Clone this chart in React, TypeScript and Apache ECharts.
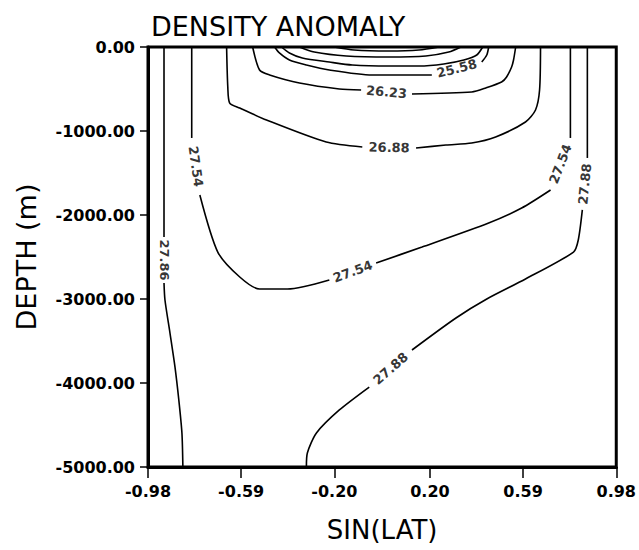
import React, { useEffect, useRef } from "react";
import * as echarts from "echarts";

// Axis ticks
const xTickValues = [-0.98, -0.59, -0.2, 0.2, 0.59, 0.98];
const xMin = -0.98;
const xMax = 0.98;
const depthMin = -5000;
const depthMax = 0;
const depthStep = 1000;

// Contour lines as segments of [sin(lat), depth (m)]; gaps between segments hold the labels
const c2786 = [
  [[-0.913, 0], [-0.913, -2262]],
  [[-0.913, -2810], [-0.909, -3012], [-0.888, -3405], [-0.867, -3810], [-0.851, -4202], [-0.838, -4595], [-0.834, -5000]],
];
const c2754 = [
  [[-0.797, 0], [-0.797, -1083]],
  [[-0.763, -1762], [-0.688, -2441], [-0.596, -2738], [-0.513, -2881], [-0.396, -2881], [-0.221, -2774]],
  [[-0.025, -2571], [0.167, -2381], [0.446, -2095], [0.584, -1917], [0.705, -1702]],
  [[0.788, -1083], [0.788, 0]],
];
const c2788 = [
  [[0.859, 0], [0.859, -1321]],
  [[0.838, -1940], [0.821, -2298], [0.801, -2441], [0.6, -2762], [0.438, -3000], [0.309, -3226], [0.125, -3607]],
  [[-0.054, -4048], [-0.179, -4321], [-0.275, -4595], [-0.313, -4833], [-0.317, -5000]],
];
const c2688 = [
  [[-0.651, 0], [-0.646, -476], [-0.638, -667], [-0.596, -726], [-0.484, -869], [-0.234, -1131], [-0.083, -1190]],
  [[0.142, -1202], [0.267, -1167], [0.375, -1143], [0.475, -1071], [0.6, -893], [0.642, -750], [0.659, -512], [0.663, 0]],
];
const c2623 = [
  [[-0.542, 0], [-0.513, -274], [-0.471, -333], [-0.346, -429], [-0.179, -500], [-0.088, -512]],
  [[0.125, -560], [0.375, -536], [0.434, -488], [0.5, -417], [0.521, -357], [0.542, -238], [0.55, -155], [0.559, 0]],
];
const c2558 = [
  [[-0.45, 0], [-0.43, -71], [-0.388, -155], [-0.317, -214], [-0.221, -274], [-0.042, -333], [0.208, -333]],
  [[0.417, -179], [0.438, -95], [0.446, 0]],
];
const c2493 = [
  [[-0.421, 0], [-0.388, -71], [-0.334, -131], [-0.221, -179], [-0.125, -214], [0.029, -226], [0.154, -226], [0.258, -202], [0.342, -155], [0.396, -95], [0.421, 0]],
];
const c2428 = [
  [[-0.346, 0], [-0.284, -60], [-0.15, -107], [0.029, -119], [0.183, -107], [0.279, -60], [0.329, 0]],
];
const c2363 = [
  [[-0.2, 0], [-0.117, -36], [0.029, -48], [0.154, -36], [0.238, 0]],
];

// Label texts shown in the gaps of each contour
const contours = [
  { label: "27.86", segs: c2786 },
  { label: "27.54", segs: c2754 },
  { label: "27.88", segs: c2788 },
  { label: "26.88", segs: c2688 },
  { label: "26.23", segs: c2623 },
  { label: "25.58", segs: c2558 },
  { label: "24.93", segs: c2493 },
  { label: "24.28", segs: c2428 },
  { label: "23.63", segs: c2363 },
];

const FONT = "DejaVu Sans";
const GRID = { left: 148, top: 47, width: 470, height: 420 };

export default function App() {
  const ref = useRef<HTMLDivElement>(null);
  useEffect(() => {
    if (!ref.current) return;
    const chart = echarts.init(ref.current, null, { renderer: "svg" });
    const lineSeries: any[] = [];
    contours.forEach((c) => {
      c.segs.forEach((seg, i) => {
        lineSeries.push({
          type: "line",
          name: c.label + "-" + i,
          data: seg,
          showSymbol: false,
          symbol: "none",
          silent: true,
          clip: false,
          smooth: 0.25,
          lineStyle: { color: "#000", width: 1.6 },
        });
      });
    });

    // labels sit in the gaps, rotated along the line direction (screen aspect of the grid)
    const sx = GRID.width / (xMax - xMin);
    const sy = GRID.height / (depthMax - depthMin);
    const labelData: any[] = [];
    contours.forEach((c) => {
      for (let i = 0; i < c.segs.length - 1; i++) {
        const a = c.segs[i][c.segs[i].length - 1];
        const b = c.segs[i + 1][0];
        const dx = (b[0] - a[0]) * sx;
        const dy = -(b[1] - a[1]) * sy;
        let ang = (-Math.atan2(dy, dx) * 180) / Math.PI;
        if (ang > 90) ang -= 180;
        if (ang < -90) ang += 180;
        labelData.push({
          name: c.label,
          value: [(a[0] + b[0]) / 2, (a[1] + b[1]) / 2],
          label: { rotate: Math.round(ang) },
        });
      }
    });

    chart.setOption({
      animation: false,
      title: {
        text: "DENSITY ANOMALY",
        left: 146,
        top: 8,
        textStyle: { fontFamily: FONT, fontSize: 27, fontWeight: "normal", color: "#000" },
      },
      grid: {
        ...GRID,
        show: true,
        borderWidth: 3,
        borderColor: "#000",
      },
      xAxis: {
        type: "value",
        min: xMin,
        max: xMax,
        position: "bottom",
        name: "SIN(LAT)",
        nameLocation: "middle",
        nameGap: 50,
        nameTextStyle: { fontFamily: FONT, fontSize: 26, color: "#000" },
        axisLine: { show: true, onZero: false, lineStyle: { color: "#000", width: 3 } },
        splitLine: { show: false },
        axisTick: { show: true, length: 11, customValues: xTickValues, lineStyle: { color: "#000", width: 1.5 } },
        axisLabel: {
          customValues: xTickValues,
          formatter: (v: number) => v.toFixed(2),
          margin: 16,
          fontFamily: FONT,
          fontSize: 16,
          fontWeight: "bold",
          color: "#000",
        },
      },
      yAxis: {
        type: "value",
        min: depthMin,
        max: depthMax,
        interval: depthStep,
        position: "left",
        name: "DEPTH (m)",
        nameLocation: "middle",
        nameGap: 108,
        nameTextStyle: { fontFamily: FONT, fontSize: 27, color: "#000" },
        axisLine: { show: true, onZero: false, lineStyle: { color: "#000", width: 3 } },
        splitLine: { show: false },
        axisTick: { show: true, length: 8, lineStyle: { color: "#000", width: 1.5 } },
        axisLabel: {
          formatter: (v: number) => v.toFixed(2),
          margin: 13,
          fontFamily: FONT,
          fontSize: 16,
          fontWeight: "bold",
          color: "#000",
        },
      },
      series: [
        ...lineSeries,
        {
          type: "scatter",
          name: "labels",
          data: labelData,
          symbolSize: 2,
          silent: true,
          clip: false,
          itemStyle: { color: "rgba(0,0,0,0)" },
          labelLayout: { hideOverlap: false },
          label: {
            show: true,
            position: "inside",
            formatter: "{b}",
            fontFamily: FONT,
            fontSize: 13,
            fontWeight: "bold",
            color: "#000",
            textBorderWidth: 0,
          },
        },
      ],
    });
    return () => chart.dispose();
  }, []);
  return (
    <div
      ref={ref}
      style={{ position: "fixed", left: 0, top: 0, width: 639, height: 550, background: "#fff" }}
    />
  );
}
